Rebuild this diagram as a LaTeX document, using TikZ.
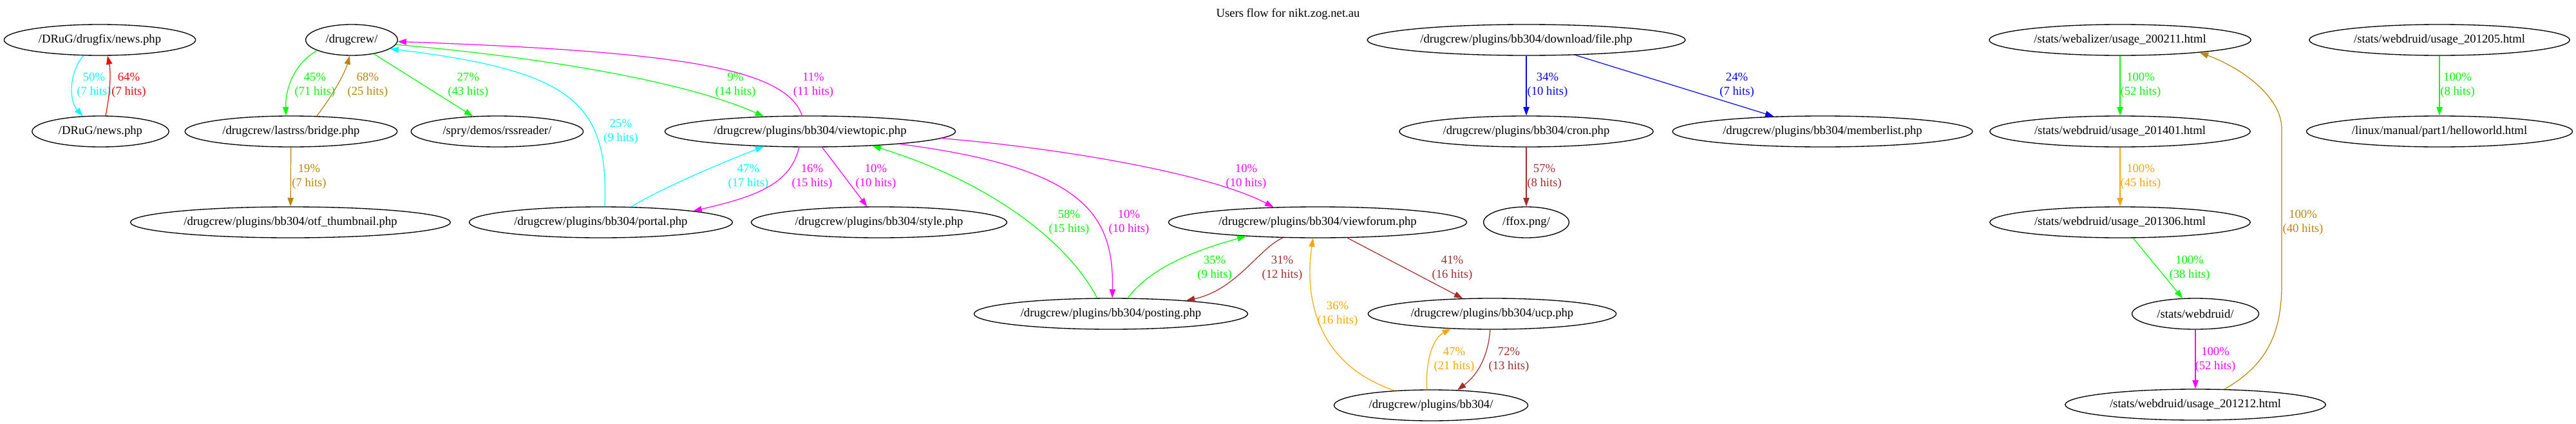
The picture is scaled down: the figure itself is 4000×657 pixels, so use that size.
\documentclass[tikz,border=0pt]{standalone}
\usepackage{fontspec}
\setmainfont{Liberation Serif}
\usepackage{tikz}
\usetikzlibrary{shapes,arrows.meta}
\definecolor{gvgreen}{RGB}{0, 255, 0}
\definecolor{gvcyan}{RGB}{0, 255, 255}
\definecolor{gvmagenta}{RGB}{255, 0, 255}
\definecolor{gvred}{RGB}{255, 0, 0}
\definecolor{gvblue}{RGB}{0, 0, 255}
\definecolor{gvgold}{RGB}{184, 134, 11}
\definecolor{gvbrown}{RGB}{165, 42, 42}
\definecolor{gvorange}{RGB}{255, 165, 0}

\begin{document}
\begin{tikzpicture}[x=0.75pt, y=-0.75pt, >={Triangle[length=10pt,width=7pt]},
    font=\fontsize{14}{16.8}\selectfont,
    urlnode/.style={draw, ellipse, line width=1pt, inner xsep=7.5pt, inner ysep=0pt, minimum height=36pt},
    hop/.style={->, line width=0.9pt},
    hits/.style={align=center, inner sep=0pt}]
    \useasboundingbox (0,0) rectangle (4000,657);
    \node (TITLE) at (2000,22) {Users flow for nikt.zog.net.au};

    % Row 1
    \node[urlnode] (DRUGFIX) at (155,62) {/DRuG/drugfix/news.php};
    \node[urlnode] (DRUGCREW) at (546,62) {/drugcrew/};
    \node[urlnode] (FILE) at (2370,62) {/drugcrew/plugins/bb304/download/file.php};
    \node[urlnode] (W200211) at (3292,62) {/stats/webalizer/usage\_200211.html};
    \node[urlnode] (W201205) at (3788,62) {/stats/webdruid/usage\_201205.html};

    % Row 2
    \node[urlnode] (DRUGNEWS) at (156,204) {/DRuG/news.php};
    \node[urlnode] (BRIDGE) at (452,204) {/drugcrew/lastrss/bridge.php};
    \node[urlnode] (SPRY) at (772,204) {/spry/demos/rssreader/};
    \node[urlnode] (VIEWTOPIC) at (1258,204) {/drugcrew/plugins/bb304/viewtopic.php};
    \node[urlnode] (CRON) at (2370,204) {/drugcrew/plugins/bb304/cron.php};
    \node[urlnode] (MEMBER) at (2830,204) {/drugcrew/plugins/bb304/memberlist.php};
    \node[urlnode] (W201401) at (3292,204) {/stats/webdruid/usage\_201401.html};
    \node[urlnode] (HELLO) at (3788,204) {/linux/manual/part1/helloworld.html};

    % Row 3
    \node[urlnode] (OTF) at (451,345) {/drugcrew/plugins/bb304/otf\_thumbnail.php};
    \node[urlnode] (PORTAL) at (933,345) {/drugcrew/plugins/bb304/portal.php};
    \node[urlnode] (STYLE) at (1365,345) {/drugcrew/plugins/bb304/style.php};
    \node[urlnode] (VIEWFORUM) at (2046,345) {/drugcrew/plugins/bb304/viewforum.php};
    \node[urlnode] (FFOX) at (2370,345) {/ffox.png/};
    \node[urlnode] (W201306) at (3292,345) {/stats/webdruid/usage\_201306.html};

    % Row 4 and 5
    \node[urlnode] (POSTING) at (1725,487) {/drugcrew/plugins/bb304/posting.php};
    \node[urlnode] (UCP) at (2317,487) {/drugcrew/plugins/bb304/ucp.php};
    \node[urlnode] (WEBDRUID) at (3409,487) {/stats/webdruid/};
    \node[urlnode] (BB304) at (2222,629) {/drugcrew/plugins/bb304/};
    \node[urlnode] (W201212) at (3409,628) {/stats/webdruid/usage\_201212.html};

    % DRuG pages
    \draw[hop, gvcyan] (DRUGFIX.-136) .. controls (108,110) and (106,155) .. (DRUGNEWS.139)
        node[hits] at (146,132) {50\%\\(7 hits)};
    \draw[hop, gvred] (DRUGNEWS.72) .. controls (172,140) and (172,110) .. (DRUGFIX.-64)
        node[hits] at (200,132) {64\%\\(7 hits)};

    % drugcrew front page
    \draw[hop, gvgreen] (DRUGCREW.-163) .. controls (455,100) and (443,140) .. (BRIDGE.108)
        node[hits] at (489,132) {45\%\\(71 hits)};
    \draw[hop, gvgold] (BRIDGE.31) .. controls (515,150) and (535,115) .. (DRUGCREW.-97)
        node[hits] at (571,132) {68\%\\(25 hits)};
    \draw[hop, gvgreen] (DRUGCREW) -- (SPRY)
        node[hits] at (727,132) {27\%\\(43 hits)};
    \draw[hop, gvgold] (BRIDGE) -- (OTF)
        node[hits] at (480,274) {19\%\\(7 hits)};
    \draw[hop, gvcyan] (PORTAL.76) .. controls (945,160) and (890,110) .. (DRUGCREW.-13)
        node[hits] at (964,204) {25\%\\(9 hits)};
    \draw[hop, gvmagenta] (VIEWTOPIC.117) .. controls (1220,105) and (1050,80) .. (DRUGCREW.-2)
        node[hits] at (1263,132) {11\%\\(11 hits)};
    \draw[hop, gvgreen] (DRUGCREW.-6) .. controls (800,85) and (1050,120) .. (VIEWTOPIC.162)
        node[hits] at (1142,132) {9\%\\(14 hits)};

    % forum pages
    \draw[hop, gvcyan] (PORTAL.27) .. controls (1030,290) and (1140,245) .. (VIEWTOPIC.-162)
        node[hits] at (1162,274) {47\%\\(17 hits)};
    \draw[hop, gvmagenta] (VIEWTOPIC.-125) .. controls (1228,285) and (1175,305) .. (PORTAL.7)
        node[hits] at (1261,274) {16\%\\(15 hits)};
    \draw[hop, gvmagenta] (VIEWTOPIC) -- (STYLE)
        node[hits] at (1360,274) {10\%\\(10 hits)};
    \draw[hop, gvmagenta] (VIEWTOPIC.-3) .. controls (1650,230) and (1880,270) .. (VIEWFORUM.161)
        node[hits] at (1935,274) {10\%\\(10 hits)};
    \draw[hop, gvmagenta] (VIEWTOPIC.-8) .. controls (1680,260) and (1730,330) .. (POSTING.85)
        node[hits] at (1753,345) {10\%\\(10 hits)};
    \draw[hop, gvgreen] (POSTING.131) .. controls (1655,370) and (1530,280) .. (VIEWTOPIC.-13)
        node[hits] at (1660,345) {58\%\\(15 hits)};
    \draw[hop, gvgreen] (POSTING.43) .. controls (1790,410) and (1870,385) .. (VIEWFORUM.-169)
        node[hits] at (1886,416) {35\%\\(9 hits)};
    \draw[hop, gvbrown] (VIEWFORUM.-156) .. controls (1955,385) and (1920,450) .. (POSTING.10)
        node[hits] at (1991,416) {31\%\\(12 hits)};
    \draw[hop, gvbrown] (VIEWFORUM) -- (UCP)
        node[hits] at (2255,416) {41\%\\(16 hits)};
    \draw[hop, gvorange] (BB304.158) .. controls (2030,560) and (2028,440) .. (VIEWFORUM.-106)
        node[hits] at (2077,487) {36\%\\(16 hits)};
    \draw[hop, gvorange] (BB304.104) .. controls (2213,560) and (2225,525) .. (UCP.-160)
        node[hits] at (2258,558) {47\%\\(21 hits)};
    \draw[hop, gvbrown] (UCP.-97) .. controls (2310,560) and (2290,585) .. (BB304.30)
        node[hits] at (2343,558) {72\%\\(13 hits)};

    % download pages
    \draw[hop, gvblue] (FILE) -- (CRON)
        node[hits] at (2403,132) {34\%\\(10 hits)};
    \draw[hop, gvblue] (FILE) -- (MEMBER)
        node[hits] at (2697,132) {24\%\\(7 hits)};
    \draw[hop, gvbrown] (CRON) -- (FFOX)
        node[hits] at (2398,274) {57\%\\(8 hits)};

    % stats pages
    \draw[hop, gvgreen] (W200211) -- (W201401)
        node[hits] at (3324,132) {100\%\\(52 hits)};
    \draw[hop, gvgreen] (W201205) -- (HELLO)
        node[hits] at (3816,132) {100\%\\(8 hits)};
    \draw[hop, gvorange] (W201401) -- (W201306)
        node[hits] at (3324,274) {100\%\\(45 hits)};
    \draw[hop, gvgreen] (W201306) -- (WEBDRUID)
        node[hits] at (3400,416) {100\%\\(38 hits)};
    \draw[hop, gvmagenta] (WEBDRUID) -- (W201212)
        node[hits] at (3440,558) {100\%\\(52 hits)};
    \draw[hop, gvgold] (W201212.28) .. controls (3522,565) and (3543,515) .. (3543,440)
        -- (3543,200) .. controls (3543,150) and (3480,105) .. (W200211.-9)
        node[hits] at (3576,345) {100\%\\(40 hits)};
\end{tikzpicture}
\end{document}
